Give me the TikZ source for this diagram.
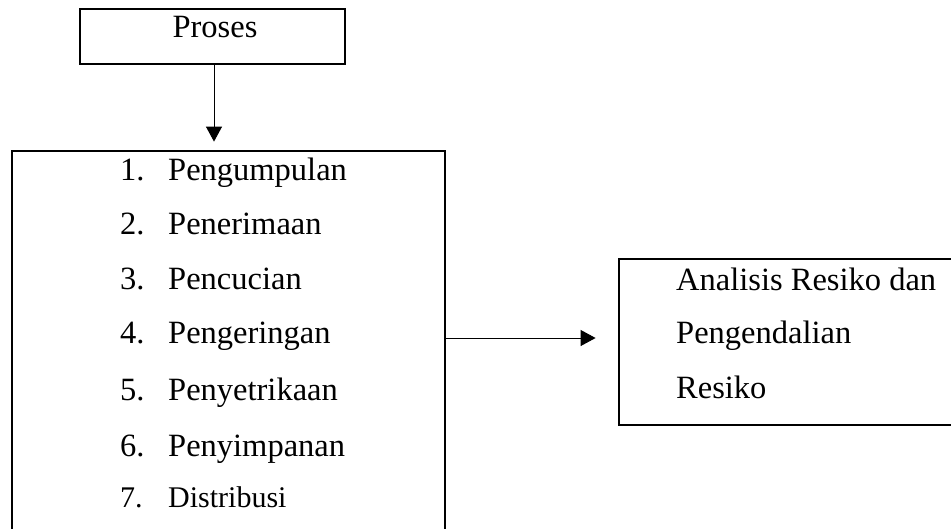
\documentclass[tikz,border=0pt]{standalone}
\usepackage{fontspec}
\setmainfont{Liberation Serif}
\usetikzlibrary{arrows.meta}
\begin{document}
\begin{tikzpicture}[x=1pt,y=-1pt,
  box/.style={draw, line width=2.8pt, inner sep=0pt},
  txt/.style={font=\fontsize{32.5}{38}\selectfont, inner sep=0pt, anchor=base west},
  smalltxt/.style={font=\fontsize{30}{35}\selectfont, inner sep=0pt, anchor=base west},
  arr/.style={line width=1pt, -{Triangle[length=15pt,width=16pt]}}]
\useasboundingbox (0,0) rectangle (951,528);
% boxes
\node[box, minimum width=265pt, minimum height=55pt] (proses) at (212.5,36.5) {};
\node[box, minimum width=433pt, minimum height=409pt] (list) at (228.5,355.5) {};
\node[box, minimum width=346pt, minimum height=166pt] (risk) at (792,342) {};
% texts
\node[txt, anchor=base] (tproses) at (215,37) {Proses};
\node[txt] (n1) at (120,180) {1.};
\node[txt] (t1) at (168,180) {Pengumpulan};
\node[txt] (n2) at (120,234) {2.};
\node[txt] (t2) at (168,234) {Penerimaan};
\node[txt] (n3) at (120,289) {3.};
\node[txt] (t3) at (168,289) {Pencucian};
\node[txt] (n4) at (120,343) {4.};
\node[txt] (t4) at (168,343) {Pengeringan};
\node[txt] (n5) at (120,400) {5.};
\node[txt] (t5) at (168,400) {Penyetrikaan};
\node[txt] (n6) at (120,456) {6.};
\node[txt] (t6) at (168,456) {Penyimpanan};
\node[smalltxt] (n7) at (120,507) {7.};
\node[smalltxt] (t7) at (168,507) {Distribusi};
\node[txt] (r1) at (676,290) {Analisis Resiko dan};
\node[txt] (r2) at (676,343) {Pengendalian};
\node[txt] (r3) at (676,398) {Resiko};
% connectors
\draw[arr, shorten >=8pt] ([xshift=1.5pt]proses.south) -- ([xshift=1.5pt]proses.south |- list.north);
\coordinate (ay) at (0,338);
\draw[arr, shorten >=22pt] (list.east |- ay) -- (risk.west |- ay);
\end{tikzpicture}
\end{document}
